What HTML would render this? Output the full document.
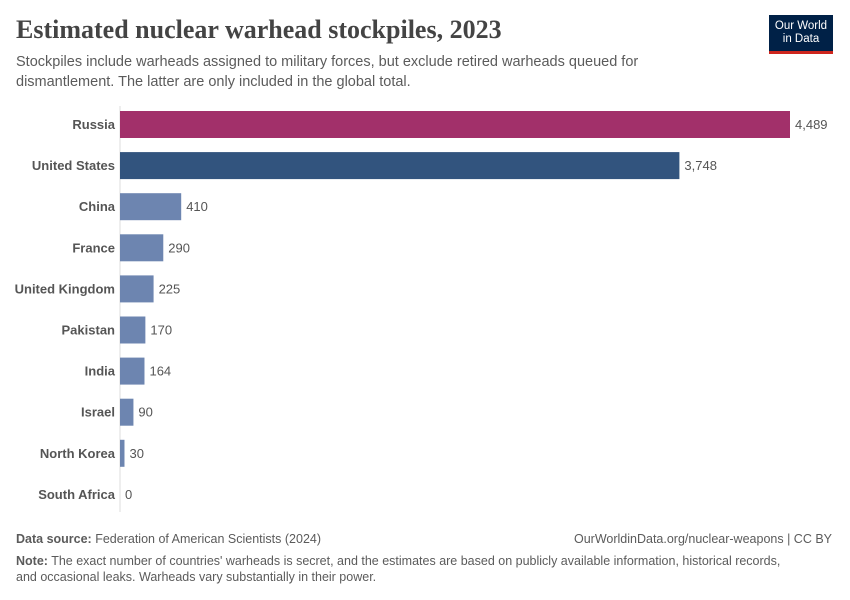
<!DOCTYPE html>
<html><head><meta charset="utf-8"><style>
body{margin:0;background:#fff;font-family:"Liberation Sans",sans-serif;}
#wrap{position:relative;width:850px;height:600px;overflow:hidden;}
.t{position:absolute;white-space:nowrap;}
</style></head><body>
<div id="wrap">
<div class="t" style="left:16px;top:15px;font-family:'Liberation Serif',serif;font-size:26px;font-weight:bold;color:#444;">Estimated nuclear warhead stockpiles, 2023</div>
<div class="t" style="left:16px;top:52px;font-size:14.5px;line-height:20px;color:#5b5b5b;">Stockpiles include warheads assigned to military forces, but exclude retired warheads queued for<br>dismantlement. The latter are only included in the global total.</div>
<div style="position:absolute;left:769px;top:15px;width:64px;height:36px;background:#002147;border-bottom:3px solid #ce261e;color:#fff;font-size:11.5px;line-height:13px;text-align:center;box-sizing:content-box;"><div style="padding-top:5px">Our World<br>in Data</div></div>
<svg id="chart" width="850" height="520" style="position:absolute;left:0;top:0"></svg>
<div class="t" style="left:16px;top:532px;font-size:12.5px;color:#5b5b5b;"><b>Data source:</b> Federation of American Scientists (2024)</div>
<div class="t" style="right:18px;top:532px;font-size:12.5px;color:#5b5b5b;">OurWorldinData.org/nuclear-weapons | CC BY</div>
<div class="t" style="left:16px;top:553px;font-size:12.5px;line-height:16px;color:#5b5b5b;"><b>Note:</b> The exact number of countries' warheads is secret, and the estimates are based on publicly available information, historical records,<br>and occasional leaks. Warheads vary substantially in their power.</div>
</div>
<script>
const countries=["Russia","United States","China","France","United Kingdom","Pakistan","India","Israel","North Korea","South Africa"];
const values=[4489,3748,410,290,225,170,164,90,30,0];
const barColors=["#a2306a","#32547e","#6d85b0","#6d85b0","#6d85b0","#6d85b0","#6d85b0","#6d85b0","#6d85b0","#6d85b0"];
const svg=document.getElementById('chart');
const NS="http://www.w3.org/2000/svg";
const x0=120,x1=790,maxV=4489;
const xs=v=>x0+v/maxV*(x1-x0);
const y0=111,step=41.1,bh=27;
const ys=i=>y0+i*step;
const ax=document.createElementNS(NS,'line');


ax.setAttribute('x1',x0);ax.setAttribute('x2',x0);ax.setAttribute('y1',106);ax.setAttribute('y2',512);ax.setAttribute('stroke','#ddd');
svg.appendChild(ax);
countries.forEach((c,i)=>{
const y=ys(i);
const r=document.createElementNS(NS,'rect');


r.setAttribute('x',x0);r.setAttribute('y',y);r.setAttribute('width',Math.max(0,xs(values[i])-x0));r.setAttribute('height',bh);r.setAttribute('fill',barColors[i]);
svg.appendChild(r);
const l=document.createElementNS(NS,'text');


l.setAttribute('x',x0-5);l.setAttribute('y',y+bh/2+4.5);l.setAttribute('text-anchor','end');l.setAttribute('font-size','13');l.setAttribute('font-weight','bold');l.setAttribute('fill','#555');l.setAttribute('font-family','Liberation Sans, sans-serif');
l.textContent=c;svg.appendChild(l);
const v=document.createElementNS(NS,'text');


v.setAttribute('x',xs(values[i])+5);v.setAttribute('y',y+bh/2+4.5);v.setAttribute('font-size','13');v.setAttribute('fill','#555');v.setAttribute('font-family','Liberation Sans, sans-serif');
v.textContent=values[i].toLocaleString('en-US');svg.appendChild(v);
});
</script>
</body></html>
